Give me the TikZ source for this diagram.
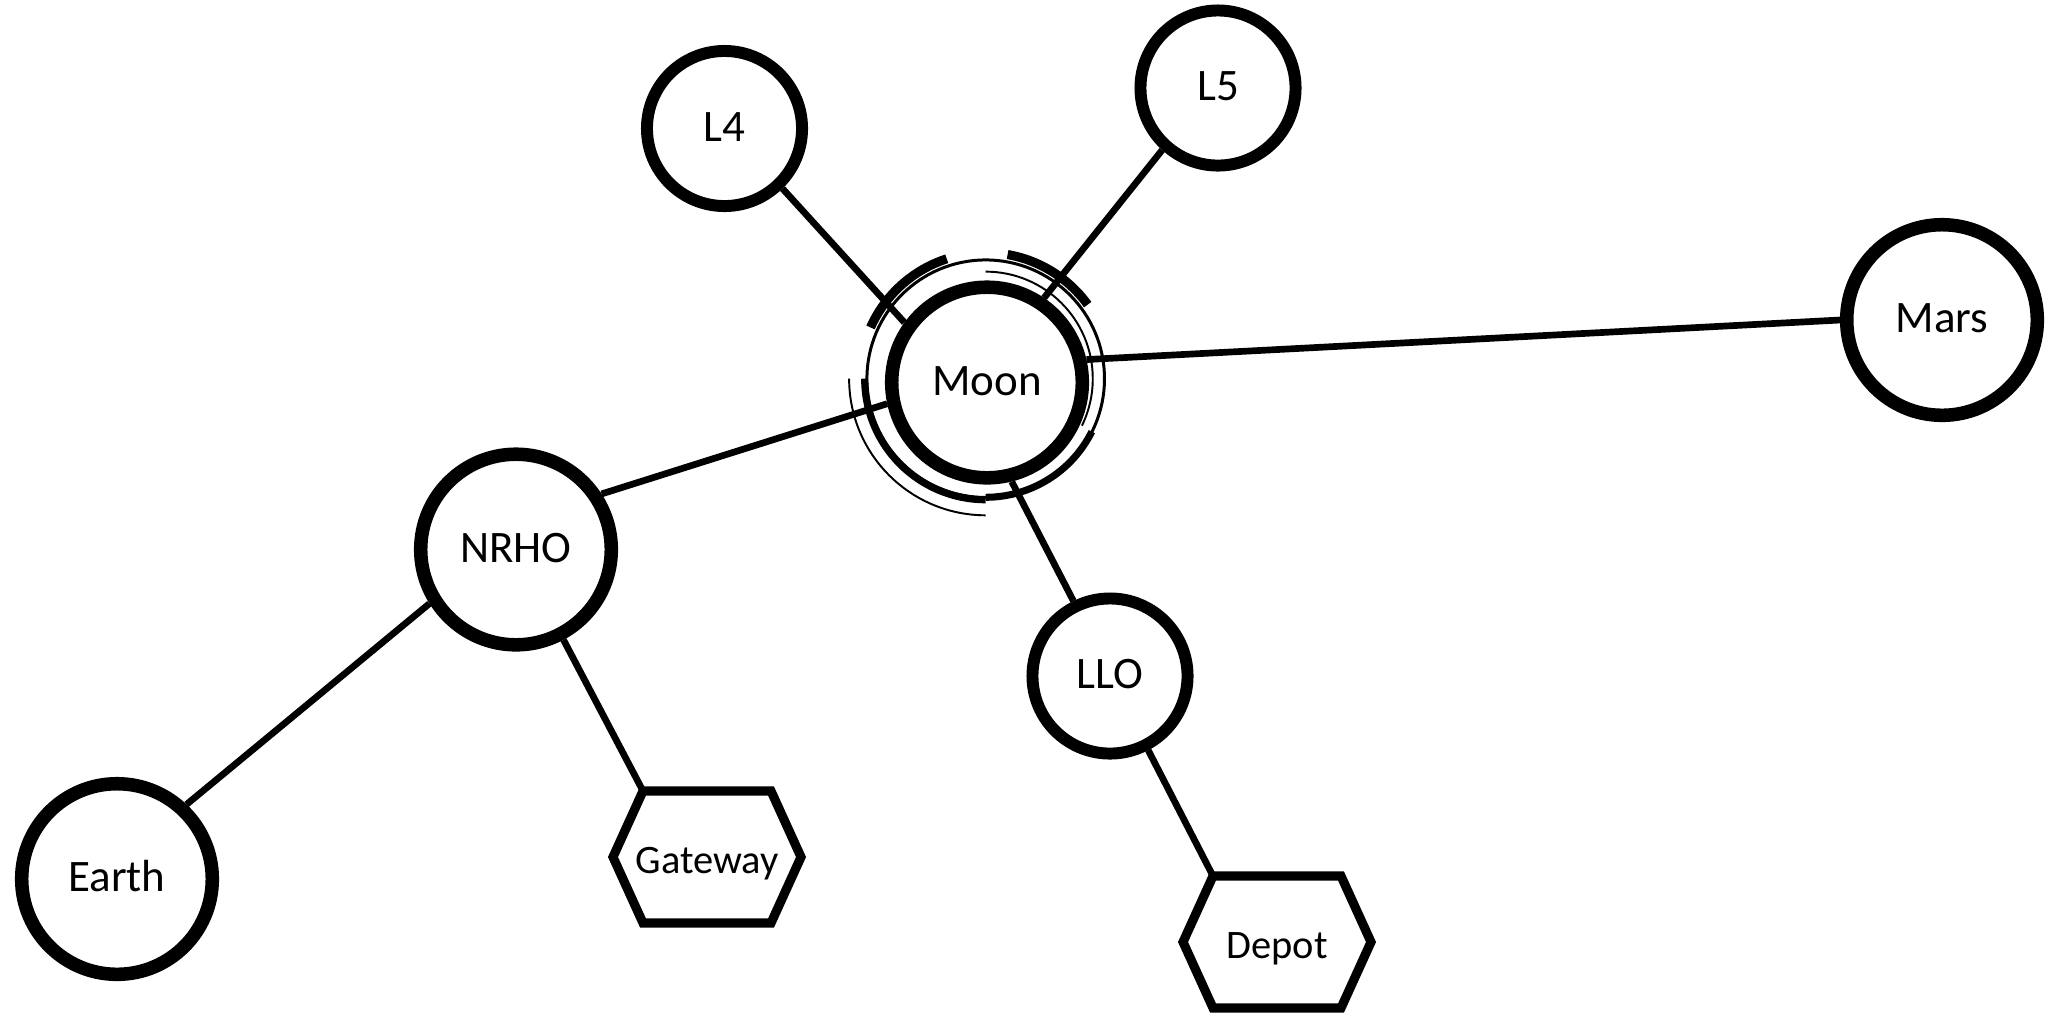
\documentclass[tikz,border=0pt]{standalone}
\usepackage{fontspec}
\setmainfont{Carlito}
\begin{document}
\begin{tikzpicture}[x=0.01cm,y=-0.01cm,
  bigc/.style={circle,draw,fill=white,line width=3.85pt,minimum size=1.905cm,inner sep=0pt,
    font=\fontsize{12.8}{15}\selectfont,text height=7.2pt,text depth=0pt},
  smallc/.style={circle,draw,fill=white,line width=3.4pt,minimum size=1.55cm,inner sep=0pt,
    font=\fontsize{12.8}{15}\selectfont,text height=7.2pt,text depth=0pt},
  hexlabel/.style={inner sep=0pt,font=\fontsize{11.5}{14}\selectfont,text height=9.4pt,text depth=0pt},
  hexline/.style={line width=2.6pt,line join=miter},
  link/.style={line width=1.9pt},
  ringthin/.style={line width=0.55pt},
  ringmed/.style={line width=0.85pt},
  ringthick/.style={line width=2.6pt},
  ringmid/.style={line width=2pt}
]
\useasboundingbox (0,0) rectangle (2055,1014);

% Moon orbit arcs
\coordinate (mc) at (985.7,378.7);
\draw[ringmed] (mc) circle[radius=1.187cm];
\draw[ringthick] (mc) ++(156:1.26cm) arc[start angle=156,end angle=108,radius=1.26cm];
\draw[ringthick] (mc) ++(80:1.26cm) arc[start angle=80,end angle=36,radius=1.26cm];
\draw[ringmid] (mc) ++(180:1.21cm) arc[start angle=180,end angle=270,radius=1.21cm];
\draw[ringmid] (mc) ++(270:1.185cm) arc[start angle=270,end angle=333.5,radius=1.185cm];
\draw[ringthin] (mc) ++(90:1.07cm) arc[start angle=90,end angle=-26,radius=1.07cm];
\draw[ringthin] (mc) ++(180:1.365cm) arc[start angle=180,end angle=270,radius=1.365cm];

% nodes
\node[bigc] (earth) at (117,879) {Earth};
\node[bigc] (nrho) at (516,549.5) {NRHO};
\node[bigc] (moon) at (987,382.5) {Moon};
\node[bigc] (mars) at (1942,320) {Mars};
\node[smallc] (l4) at (724.5,128.5) {L4};
\node[smallc] (l5) at (1218,88) {L5};
\node[smallc] (llo) at (1110,676) {LLO};
\node[hexlabel] (gw) at (707,857) {Gateway};
\node[hexlabel] (depot) at (1277,942) {Depot};

\draw[hexline,shift={(gw.center)}] (-94,0) -- (-64,-66) coordinate (gwtl) -- (64,-66) -- (94,0) -- (64,66) -- (-64,66) -- cycle;
\draw[hexline,shift={(depot.center)}] (-94,0) -- (-64,-66) coordinate (deptl) -- (64,-66) -- (94,0) -- (64,66) -- (-64,66) -- cycle;

% connectors
\draw[link] (earth.47) -- (nrho.212);
\draw[link] (nrho.33) -- (moon.192);
\draw[link] (nrho) -- (gwtl);
\draw[link] (l4.-46.5) -- (moon.144);
\draw[link] (l5.-132) -- (moon.56);
\draw[link] (moon.13.8) -- (mars.180);
\draw[link] (moon.-76) -- (llo.116);
\draw[link] (llo) -- (deptl);
\end{tikzpicture}
\end{document}
